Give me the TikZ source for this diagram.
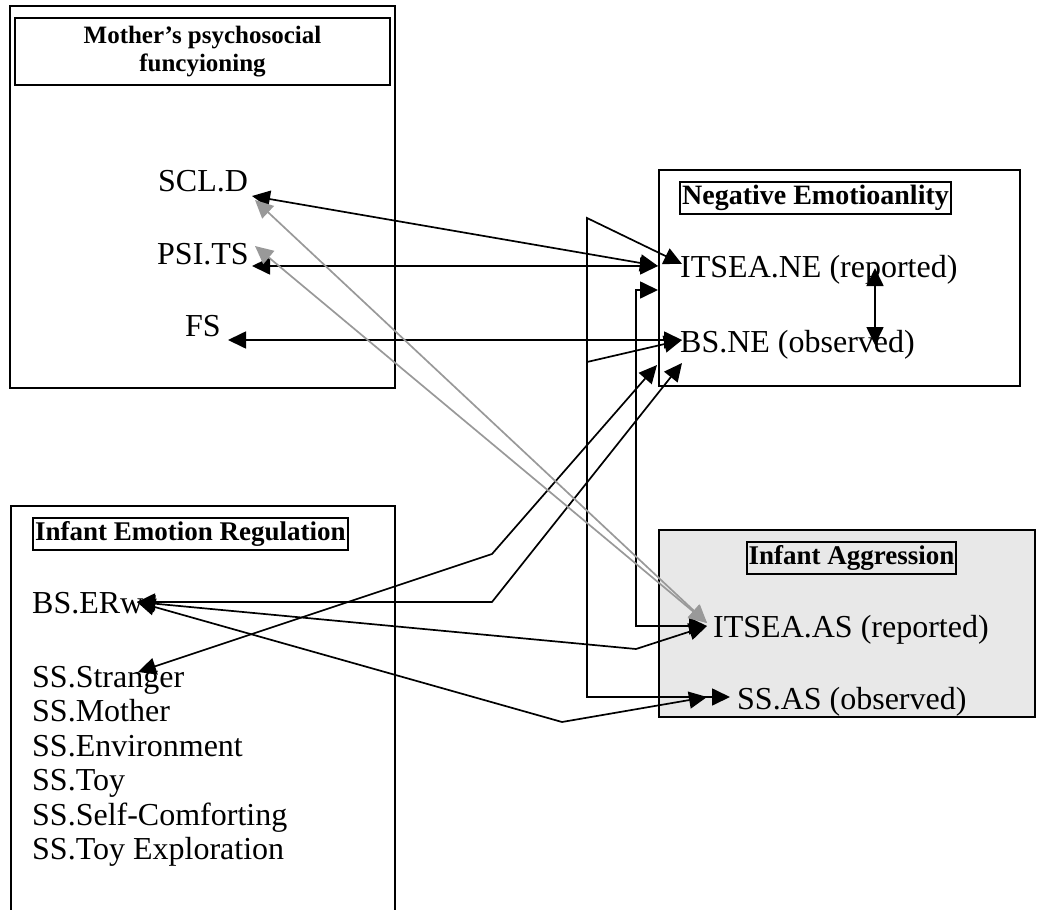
\documentclass[tikz,border=0pt]{standalone}
\usepackage{fontspec}
\setmainfont{Liberation Serif}
\usetikzlibrary{arrows.meta}

\begin{document}
\begin{tikzpicture}[
  x=1pt, y=-1pt,
  >={Triangle[length=18pt,width=17pt]},
  frame/.style={draw, line width=1.5pt},
  heading/.style={draw, line width=2.2pt, inner sep=2pt, font=\fontsize{27}{30}\selectfont\bfseries},
  var/.style={anchor=base west, inner sep=0pt, font=\fontsize{32}{36}\selectfont},
  link/.style={<->, line width=1.7pt},
  halflink/.style={<-, line width=1.7pt},
  glink/.style={link, black!40},
]
\clip (0,0) rectangle (1037,910);
\useasboundingbox (0,0) rectangle (1037,910);

% Blocks
\draw[frame] (10,6) rectangle (395,388);
\draw[frame] (659,170) rectangle (1020,386);
\draw[frame] (11,506) rectangle (395,930);
\draw[frame, fill=black!9] (659,530) rectangle (1035,717);

\node[heading, minimum width=375pt, minimum height=67pt, align=center,
  font=\fontsize{25}{28}\selectfont\bfseries] (mhead) at (202.5,51.5)
  {Mother’s psychosocial\\funcyioning};
\node[heading, anchor=west, minimum height=32pt, font=\fontsize{28}{30}\selectfont\bfseries] (nehead) at (679,198) {Negative Emotioanlity};
\node[heading, anchor=west, minimum height=32pt] (erhead) at (32,534) {Infant Emotion Regulation};
\node[heading, minimum width=205pt, minimum height=32pt] (aghead) at (851.5,558) {Infant Aggression};

% Variables
\node[var] (scld) at (158,191) {SCL.D};
\node[var] (psits) at (157,264) {PSI.TS};
\node[var] (fs) at (185,336) {FS};
\node[var] (itseane) at (680,277) {ITSEA.NE (reported)};
\node[var] (bsne) at (680,352) {BS.NE (observed)};
\node[var] (itseaas) at (713,637) {ITSEA.AS (reported)};
\node[var] (ssas) at (737,709) {SS.AS (observed)};
\node[var] (bserw) at (32,613) {BS.ERw};
\foreach \lab [count=\i from 0] in {Stranger,Mother,Environment,Toy,Self-Comforting,Toy Exploration}
  \node[var] (ss\i) at (32,687+34.5*\i) {SS.\lab};

% Connection points
\coordinate (scld-k) at (252,196);
\coordinate (scld-g) at (255,200);
\coordinate (psits-k) at (252,266);
\coordinate (psits-g) at (255,246);
\coordinate (fs-k) at (228,340);
\coordinate (ne-a) at (658,266);
\coordinate (ne-b) at (658,290);
\coordinate (ne-c) at (682,264);
\coordinate (ne-d) at (682,340);
\coordinate (ne-e) at (657,365);
\coordinate (ne-f) at (682,363);
\coordinate (as-a) at (707,626);
\coordinate (as-g) at (707,623);
\coordinate (ss-a) at (707,697);
\coordinate (ss-b) at (730,697);
\coordinate (erw-k) at (137,602);
\coordinate (str-k) at (138,672);

% Mother -> negative emotionality
\draw[link] (scld-k) -- (ne-a);
\draw[link] (psits-k) -- (ne-a);
\draw[link] (fs-k) -- (ne-d);
\draw[link] (875,268) -- (875,345);

% Negative emotionality -> aggression
\draw[link] (ne-c) -- (587,218) -- (587,697) -- (ss-b);
\draw[halflink] (ne-d) -- (587,362);
\draw[link] (ne-b) -- (636,290) -- (636,626) -- (as-a);

% Emotion regulation
\draw[link] (str-k) -- (492,554) -- (ne-e);
\draw[link] (erw-k) -- (492,602) -- (ne-f);
\draw[link] (erw-k) -- (636,649) -- (as-a);
\draw[link] (erw-k) -- (562,722) -- (ss-a);

% Mother -> aggression
\draw[glink] (scld-g) -- (as-g);
\draw[glink] (psits-g) -- (as-g);
\end{tikzpicture}
\end{document}
